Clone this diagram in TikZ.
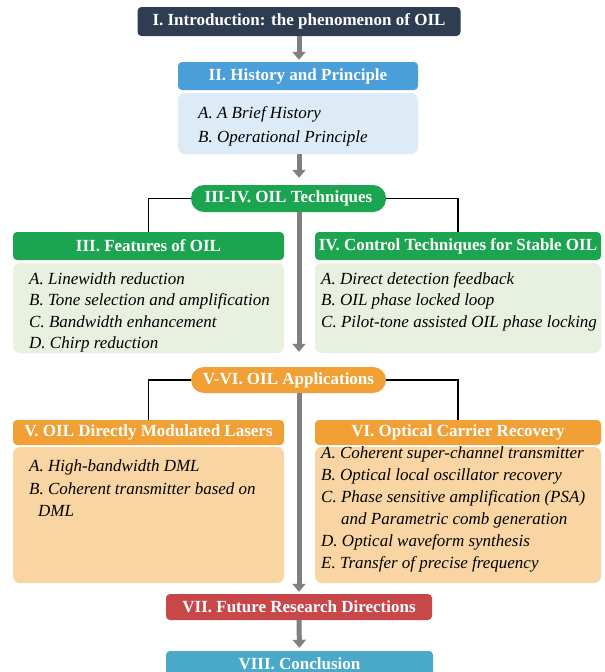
\documentclass[tikz,border=0pt]{standalone}
\usepackage{fontspec}
\setmainfont{Liberation Serif}
\usetikzlibrary{arrows.meta}

\definecolor{navy}{RGB}{46,61,82}
\definecolor{histblue}{RGB}{74,158,218}
\definecolor{histpale}{RGB}{221,235,246}
\definecolor{oilgreen}{RGB}{27,165,80}
\definecolor{greenpale}{RGB}{232,240,223}
\definecolor{appsorange}{RGB}{240,160,52}
\definecolor{orangepale}{RGB}{248,213,163}
\definecolor{futurered}{RGB}{200,72,74}
\definecolor{conclteal}{RGB}{74,168,200}
\definecolor{flowgray}{RGB}{128,128,128}

\newcommand{\headfont}{\fontsize{17}{20}\selectfont\bfseries}
\newcommand{\itemfont}{\fontsize{17}{20}\selectfont\itshape}

\begin{document}
\begin{tikzpicture}[x=1pt,y=-1pt,
  head/.style={rounded corners=4pt,text=white,font=\headfont,inner sep=0pt,minimum height=28pt},
  pill/.style={head,rounded corners=13pt,minimum width=195pt,minimum height=27pt},
  body/.style={rounded corners=7pt,inner sep=0pt},
  item/.style={font=\itemfont,inner sep=0pt,anchor=base west},
  flow/.style={flowgray,line width=5pt,-{Triangle[length=8pt,width=13pt]}},
  link/.style={black,line width=1.4pt}]
\useasboundingbox (0,0) rectangle (605,672);
\clip (0,0) rectangle (605,672);

\node[head,fill=navy,minimum width=323pt,minimum height=29pt] (intro) at (299,21.5) {I. Introduction: the phenomenon of OIL};
\node[head,fill=histblue,minimum width=240pt] (hist) at (298,76) {II. History and Principle};
\node[body,fill=histpale,minimum width=240pt,minimum height=61pt] (histbody) at (298,123.5) {};

\node[pill,fill=oilgreen] (techs) at (288.5,198.5) {III-IV. OIL Techniques};
\node[head,fill=oilgreen,minimum width=271pt] (feat) at (148.5,246) {III. Features of OIL};
\node[body,fill=greenpale,minimum width=271pt,minimum height=90pt] (featbody) at (148.5,308) {};
\node[head,fill=oilgreen,minimum width=286pt] (ctrl) at (458,246) {IV. Control Techniques for Stable OIL};
\node[body,fill=greenpale,minimum width=286pt,minimum height=90pt] (ctrlbody) at (458,308) {};

\node[pill,fill=appsorange,minimum height=26pt] (apps) at (288.5,380) {V-VI. OIL Applications};
\node[head,fill=appsorange,minimum width=271pt,minimum height=25pt] (dml) at (148.5,432.5) {V. OIL Directly Modulated Lasers};
\node[body,fill=orangepale,minimum width=271pt,minimum height=136pt] (dmlbody) at (148.5,515) {};
\node[head,fill=appsorange,minimum width=286pt,minimum height=25pt] (ocr) at (458,432.5) {VI. Optical Carrier Recovery};
\node[body,fill=orangepale,minimum width=286pt,minimum height=136pt] (ocrbody) at (458,515) {};

\node[head,fill=futurered,minimum width=266pt,minimum height=26pt] (future) at (299,607) {VII. Future Research Directions};
\node[head,fill=conclteal,minimum width=267pt,minimum height=26pt] (concl) at (299.5,664) {VIII. Conclusion};

% section contents
\foreach \t [count=\i] in {A. A Brief History,B. Operational Principle}
  \node[item] (hist-\i) at (198,{118+24*(\i-1)}) {\t};
\foreach \t [count=\i] in {A. Linewidth reduction,B. Tone selection and amplification,C. Bandwidth enhancement,D. Chirp reduction}
  \node[item] (feat-\i) at (29,{284+21.5*(\i-1)}) {\t};
\foreach \t [count=\i] in {A. Direct detection feedback,B. OIL phase locked loop,C. Pilot-tone assisted OIL phase locking}
  \node[item] (ctrl-\i) at (321,{284+21.5*(\i-1)}) {\t};
\node[item] (dml-1) at (29,471) {A. High-bandwidth DML};
\node[item] (dml-2) at (29,494) {B. Coherent transmitter based on};
\node[item] (dml-3) at (38,516) {DML};
\foreach \t [count=\i] in {A. Coherent super-channel transmitter,B. Optical local oscillator recovery,C. Phase sensitive amplification (PSA)}
  \node[item] (ocr-\i) at (321,{458+22*(\i-1)}) {\t};
\node[item] (ocr-4) at (341,524) {and Parametric comb generation};
\node[item] (ocr-5) at (321,546) {D. Optical waveform synthesis};
\node[item] (ocr-6) at (321,568) {E. Transfer of precise frequency};

% branches
\draw[link] (techs.west) -| (feat.north);
\draw[link] (techs.east) -| (ctrl.north);
\draw[link] (apps.west) -| (dml.north);
\draw[link] (apps.east) -| (ocr.north);

% main flow
\draw[flow,shorten >=2pt] (intro.south) -- (intro.south |- hist.north);
\draw[flow,shorten >=7pt] (intro.south |- histbody.south) -- (intro.south |- techs.north);
\draw[flow,shorten >=15pt] (intro.south |- techs.south) -- (intro.south |- apps.north);
\draw[flow,shorten >=2pt] (intro.south |- apps.south) -- (future.north);
\draw[flow,shorten >=3pt] (future.south) -- (concl.north);
\end{tikzpicture}
\end{document}
